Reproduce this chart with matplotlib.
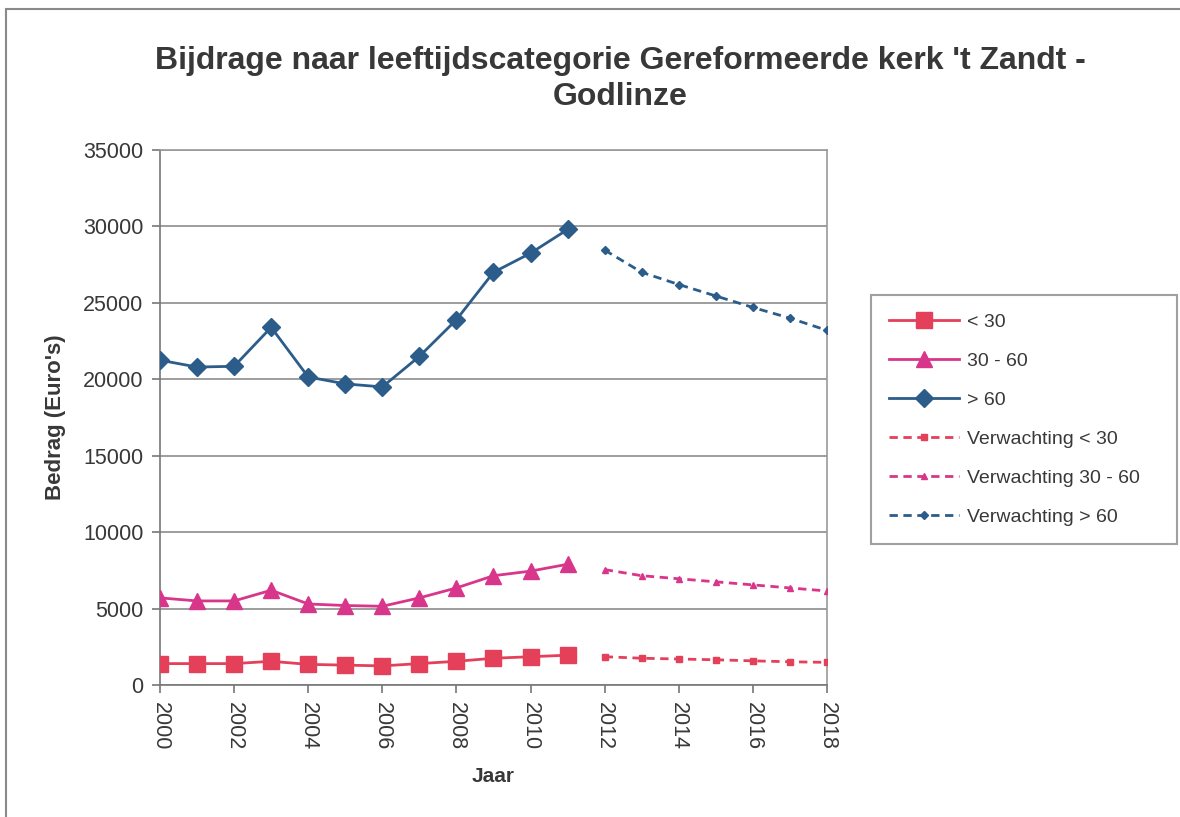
import matplotlib.pyplot as plt
from matplotlib.patches import Rectangle

jaren = list(range(2000, 2012))
jaren_verwachting = list(range(2012, 2019))

onder_30 = [1400, 1400, 1400, 1550, 1350, 1300, 1250, 1400, 1550, 1750, 1850, 1950]
tussen_30_60 = [5700, 5500, 5500, 6200, 5300, 5200, 5150, 5700, 6350, 7150, 7450, 7900]
boven_60 = [21250, 20800, 20850, 23400, 20150, 19700, 19500, 21500, 23900, 27000, 28250, 29800]

verw_onder_30 = [1850, 1750, 1700, 1650, 1580, 1520, 1480]
verw_30_60 = [7550, 7150, 6950, 6750, 6550, 6350, 6150]
verw_boven_60 = [28450, 27000, 26200, 25450, 24700, 24000, 23200]

rood = '#E4405A'
roze = '#D8368A'
blauw = '#2C5D8A'
tekst = '#383838'

plt.rcParams['font.family'] = ['Liberation Sans', 'DejaVu Sans']

fig = plt.figure(figsize=(11.8, 8.17), dpi=100)
fig.patches.append(Rectangle((6 / 1180, -0.1), 1.2, 1 - 9 / 817 + 0.1, transform=fig.transFigure,
                             fill=False, edgecolor='#8a8a8a', linewidth=1.5))

ax = fig.add_axes([160 / 1180, 1 - 685 / 817, 667 / 1180, 535 / 817])

ax.plot(jaren, onder_30, color=rood, lw=2, marker='s', ms=11, label='< 30', zorder=3)
ax.plot(jaren, tussen_30_60, color=roze, lw=2, marker='^', ms=11, label='30 - 60', zorder=3)
ax.plot(jaren, boven_60, color=blauw, lw=2, marker='D', ms=9, label='> 60', zorder=3)
ax.plot(jaren_verwachting, verw_onder_30, color=rood, lw=2, ls=(0, (3, 2)), marker='s', ms=5,
        label='Verwachting < 30', zorder=3)
ax.plot(jaren_verwachting, verw_30_60, color=roze, lw=2, ls=(0, (3, 2)), marker='^', ms=5,
        label='Verwachting 30 - 60', zorder=3)
ax.plot(jaren_verwachting, verw_boven_60, color=blauw, lw=2, ls=(0, (3, 2)), marker='D', ms=4,
        label='Verwachting > 60', zorder=3)

ax.set_xlim(2000, 2018)
ax.set_ylim(0, 35000)
ax.set_xticks(range(2000, 2019, 2))
ax.set_yticks(range(0, 35001, 5000))
ax.yaxis.grid(True, color='#8c8c8c', lw=1.2)
ax.set_axisbelow(True)
for s in ax.spines.values():
    s.set_color('#999999')
    s.set_linewidth(1.2)
ax.spines['left'].set_color('#777777')
ax.spines['bottom'].set_color('#777777')
ax.tick_params(axis='x', labelrotation=-90, labelsize=15.5, colors=tekst, length=6, width=1.2,
               direction='out', color='#777777', pad=6)
ax.tick_params(axis='y', labelsize=15.5, colors=tekst, length=6, width=1.2, direction='out',
               color='#777777', pad=6)

ax.set_xlabel('Jaar', fontsize=15, fontweight='bold', color=tekst, labelpad=12)
ax.set_ylabel("Bedrag (Euro's)", fontsize=16, fontweight='bold', color=tekst, labelpad=12)

fig.text(620 / 1180, 1 - 79 / 817,
         "Bijdrage naar leeftijdscategorie Gereformeerde kerk 't Zandt -\nGodlinze",
         ha='center', va='center', fontsize=23, fontweight='bold', color=tekst, linespacing=1.3)

leg = ax.legend(loc='upper left', bbox_to_anchor=(871 / 1180, 1 - 303 / 817, 306 / 1180, 0.01),
                bbox_transform=fig.transFigure, mode='expand', fontsize=14, frameon=True,
                fancybox=False, edgecolor='#888888', handlelength=3.6, handletextpad=0.4,
                labelspacing=1.1, borderpad=0.95, borderaxespad=0)
leg.get_frame().set_linewidth(1.5)
for t in leg.get_texts():
    t.set_color(tekst)

fig.savefig('out.png', dpi=100)
